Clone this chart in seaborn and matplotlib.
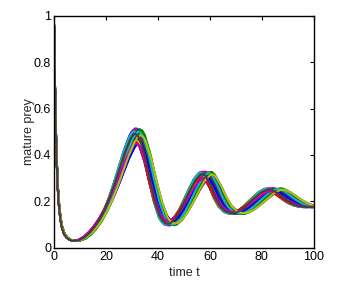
import numpy as np
import pandas as pd
import matplotlib
matplotlib.use("Agg")
import matplotlib.pyplot as plt
import seaborn as sns

# base trajectory (time, mature prey)
base_t = [0, 0.3, 0.6, 1, 1.5, 2, 2.5, 3, 4, 5, 6, 7, 8, 9, 10, 12, 14, 16, 18,
          20, 22, 24, 26, 28, 30, 31, 32, 33, 34, 36, 38, 40, 42, 43, 44, 45, 46,
          48, 50, 52, 54, 56, 58, 59, 60, 62, 64, 66, 68, 70, 71, 72, 74, 76,
          78, 80, 82, 84, 85, 86, 88, 90, 92, 94, 96, 98, 100, 102, 104, 106, 108]
base_y = [1.0, 0.78, 0.58, 0.40, 0.26, 0.18, 0.13, 0.095, 0.06, 0.045, 0.036, 0.032,
          0.03, 0.031, 0.034, 0.045, 0.064, 0.09, 0.122, 0.163, 0.215, 0.275, 0.34,
          0.405, 0.458, 0.476, 0.485, 0.48, 0.462, 0.39, 0.29, 0.20, 0.135, 0.118,
          0.108, 0.105, 0.108, 0.128, 0.162, 0.205, 0.25, 0.29, 0.314, 0.316,
          0.307, 0.267, 0.216, 0.178, 0.157, 0.15, 0.15, 0.152, 0.163, 0.18,
          0.2, 0.22, 0.238, 0.249, 0.251, 0.249, 0.237, 0.221, 0.205, 0.192,
          0.183, 0.178, 0.176, 0.177, 0.18, 0.184, 0.188]
equilibrium = 0.19

run_stretch = [0.962, 1.031, 0.988, 1.012, 0.975, 1.040, 0.995, 1.020, 0.968, 1.005,
               0.982, 1.036, 0.958, 1.015, 0.992, 1.026, 0.972, 1.000, 1.034, 0.985,
               1.009, 0.965, 1.022, 0.978, 1.038, 0.990, 1.017, 0.960, 1.003, 1.028,
               0.980, 1.011, 0.970, 1.024, 0.997, 1.033, 0.986, 1.007, 0.963, 1.019,
               0.976, 1.002, 0.994, 1.029, 0.967, 1.014, 0.983, 1.037, 0.973]
run_amp = [1.08, 0.95, 1.02, 0.90, 1.10, 0.97, 0.88, 1.05, 0.99, 1.07,
           0.92, 1.01, 1.04, 0.94, 1.09, 0.89, 1.00, 1.06, 0.93, 0.98,
           1.03, 0.91, 1.08, 0.96, 1.00, 1.10, 0.87, 1.02, 0.95, 1.05,
           0.99, 0.92, 1.07, 0.97, 1.04, 0.90, 1.01, 0.94, 1.06, 0.98,
           0.93, 1.03, 0.96, 1.09, 0.91, 1.05, 0.88, 1.00, 1.02]
run_start = [1.0] * 4 + [0.7] + [1.0] * 44

matlab_colors = [(0, 0, 1), (0, 0.5, 0), (1, 0, 0), (0, 0.75, 0.75),
                 (0.75, 0, 0.75), (0.75, 0.75, 0), (0.25, 0.25, 0.25)]

bt = np.array(base_t, dtype=float)
by = np.array(base_y, dtype=float)
weight = np.clip((bt - 8.0) / 12.0, 0.0, 1.0)
frames = []
for k, (s, a, y0) in enumerate(zip(run_stretch, run_amp, run_start)):
    y = by + weight * (a - 1.0) * (by - equilibrium)
    y[0] = y0
    frames.append(pd.DataFrame({"t": bt * s, "y": y, "run": k}))
df = pd.concat(frames, ignore_index=True)

sns.set_style("white")
plt.rcParams["font.family"] = ["Liberation Sans", "DejaVu Sans"]

fig = plt.figure(figsize=(3.39, 2.83), dpi=100)
ax = fig.add_axes([0.159, 0.124, 0.767, 0.821])
palette = [matlab_colors[k % len(matlab_colors)] for k in range(len(run_stretch))]
sns.lineplot(data=df, x="t", y="y", hue="run", palette=palette, estimator=None,
             sort=False, legend=False, linewidth=1.4, ax=ax)

ax.set_xlim(0, 100)
ax.set_ylim(0, 1)
ax.set_xticks([0, 20, 40, 60, 80, 100])
ax.set_yticks([0, 0.2, 0.4, 0.6, 0.8, 1])
ax.set_yticklabels(["0", "0.2", "0.4", "0.6", "0.8", "1"])
ax.tick_params(direction="in", length=3, width=0.8, labelsize=9,
               top=True, right=True, colors="black", pad=2)
for sp in ax.spines.values():
    sp.set_visible(True)
    sp.set_color("black")
    sp.set_linewidth(1.0)
ax.set_xlabel("time t", fontsize=9, labelpad=3)
ax.set_ylabel("mature prey", fontsize=9, labelpad=-1)
fig.savefig("out.png", dpi=100, facecolor="white")
